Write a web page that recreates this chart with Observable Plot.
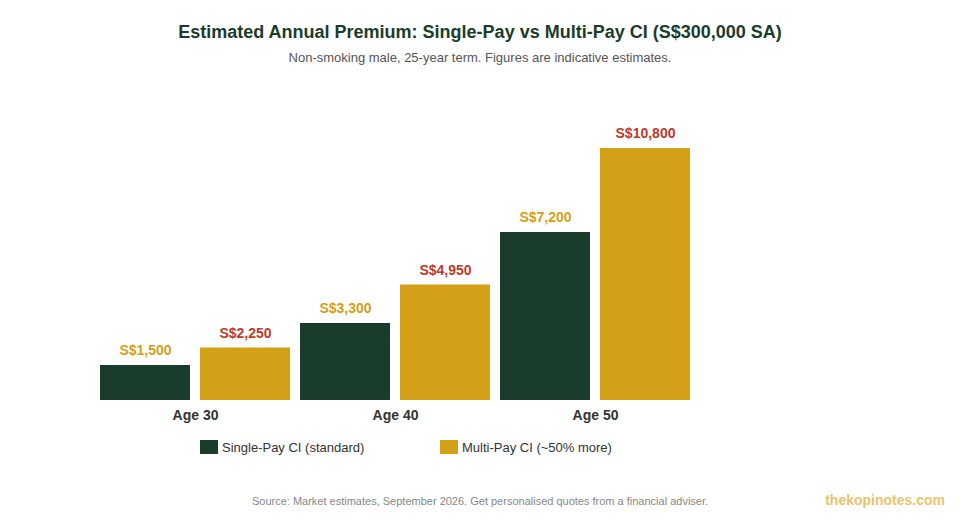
<!DOCTYPE html>
<html>
<head>
<meta charset="utf-8">
<script src="https://cdn.jsdelivr.net/npm/d3@7"></script>
<script src="https://cdn.jsdelivr.net/npm/@observablehq/plot@0.6"></script>
<style>
  html, body { margin: 0; padding: 0; background: #fff; }
  body { width: 960px; height: 520px; position: relative; overflow: hidden; font-family: "Liberation Sans", Arial, sans-serif; }
  #title { position: absolute; left: 0; width: 960px; top: 20px; text-align: center; font-size: 18px; line-height: 24px; font-weight: 700; color: #1a3c2b; }
  #subtitle { position: absolute; left: 0; width: 960px; top: 50px; text-align: center; font-size: 13px; line-height: 16px; color: #555; }
  #chart { position: absolute; left: 0; top: 90px; }
  #chart svg { display: block; }
  #legend { position: absolute; top: 440px; left: 200px; height: 14px; display: flex; }
  .item { width: 240px; display: flex; align-items: center; font-size: 13px; line-height: 14px; color: #333; }
  .swatch { width: 18px; height: 14px; margin-right: 4px; flex: none; }
  .name { position: relative; top: 1px; }
  #source { position: absolute; left: 0; width: 960px; top: 495px; text-align: center; font-size: 11px; line-height: 13px; color: #888; }
  #mark { position: absolute; right: 15px; top: 492px; font-size: 14px; line-height: 17px; font-weight: 700; color: #e8c46f; }
</style>
</head>
<body>
<div id="title"></div>
<div id="subtitle"></div>
<div id="chart"></div>
<div id="legend"></div>
<div id="source"></div>
<div id="mark"></div>
<script>
const titleText = "Estimated Annual Premium: Single-Pay vs Multi-Pay CI (S$300,000 SA)";
const subtitleText = "Non-smoking male, 25-year term. Figures are indicative estimates.";
const sourceText = "Source: Market estimates, September 2026. Get personalised quotes from a financial adviser.";
const markText = "thekopinotes.com";

const ages = ["Age 30", "Age 40", "Age 50"];
const seriesNames = ["Single-Pay CI (standard)", "Multi-Pay CI (~50% more)"];
const singlePay = [1500, 3300, 7200];
const multiPay = [2250, 4950, 10800];
const barColors = ["#1a3c2b", "#d4a017"];
const labelColors = ["#d4a017", "#c0392b"];

const rows = ages.flatMap((age, i) => [
  {age, series: seriesNames[0], value: singlePay[i], label: labelColors[0]},
  {age, series: seriesNames[1], value: multiPay[i], label: labelColors[1]}
]);

document.getElementById("title").textContent = titleText;
document.getElementById("subtitle").textContent = subtitleText;
document.getElementById("source").textContent = sourceText;
document.getElementById("mark").textContent = markText;

const legend = document.getElementById("legend");
seriesNames.forEach((name, i) => {
  const item = document.createElement("div");
  item.className = "item";
  const sw = document.createElement("span");
  sw.className = "swatch";
  sw.style.background = barColors[i];
  const txt = document.createElement("span");
  txt.className = "name";
  txt.textContent = name;
  item.appendChild(sw);
  item.appendChild(txt);
  legend.appendChild(item);
});

const chart = Plot.plot({
  width: 960,
  height: 340,
  marginTop: 30,
  marginBottom: 30,
  marginLeft: 95,
  marginRight: 265,
  style: {fontFamily: '"Liberation Sans", Arial, sans-serif', background: "transparent"},
  fx: {domain: ages, paddingInner: 0.05, paddingOuter: 0.025, label: null},
  x: {domain: seriesNames, paddingInner: 0.1, paddingOuter: 0, axis: null},
  y: {domain: [0, 12000], axis: null},
  color: {domain: seriesNames, range: barColors},
  marks: [
    Plot.barY(rows, {fx: "age", x: "series", y: "value", fill: "series"}),
    Plot.text(rows, {
      fx: "age", x: "series", y: "value",
      text: d => "S$" + d3.format(",")(d.value),
      fill: "label", dy: -14.6, fontSize: 14, fontWeight: 700
    }),
    Plot.axisFx({
      anchor: "bottom", tickSize: 0, tickPadding: 10, label: null,
      fontSize: 14, fontWeight: 700, color: "#333"
    })
  ]
});
document.getElementById("chart").appendChild(chart);
</script>
</body>
</html>
